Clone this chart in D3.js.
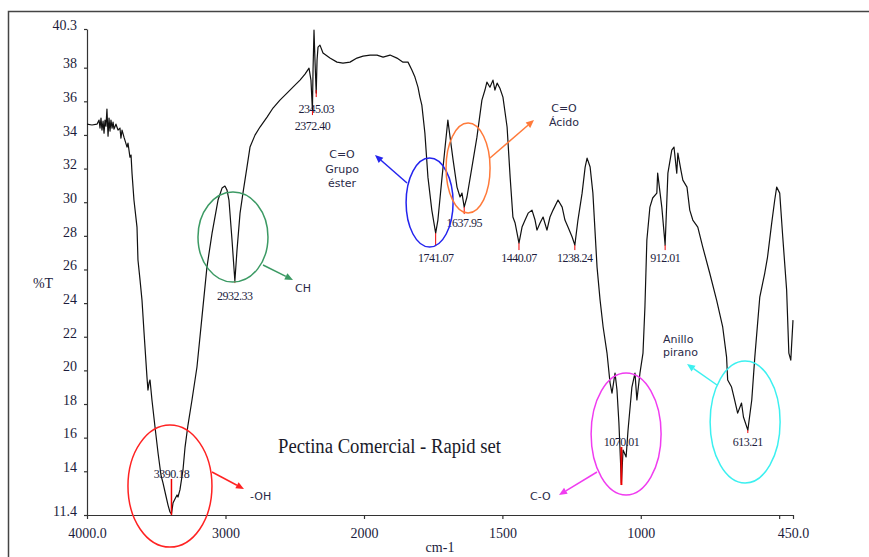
<!DOCTYPE html>
<html>
<head>
<meta charset="utf-8">
<script src="https://cdn.jsdelivr.net/npm/d3@7"></script>
<style>
  body { margin: 0; background: #fff; }
  svg { display: block; }
</style>
</head>
<body>
<script>
// spectrum (cm-1 / %T)
var wavenumber = [4000,3964,3928,3913,3906,3899,3892,3884,3877,3870,
  3863,3856,3848,3841,3834,3827,3819,3812,3805,3791,
  3776,3762,3755,3747,3733,3711,3704,3690,3682,3675,
  3661,3639,3632,3617,3603,3588,3567,3560,3552,3545,
  3531,3509,3487,3466,3451,3430,3415,3401,3390.18,3379,
  3365,3350,3343,3329,3307,3292,3271,3242,3206,3170,
  3134,3097,3054,3025,3004,2989,2975,2953,2932.33,2917,
  2895,2874,2845,2823,2787,2751,2700,2657,2607,2556,
  2513,2462,2426,2397,2383,2372.40,2368,2361,2354,2345.03,
  2339,2332,2318,2296,2246,2195,2152,2101,2051,2007,
  1978,1953,1931,1906,1881,1859,1841,1827,1816,1805,
  1798,1791,1780,1769,1755,1741.07,1733,1718,1707,1697,
  1689,1678,1664,1653,1646,1637.95,1628,1610,1592,1574,
  1563,1556,1545,1534,1527,1519,1509,1498,1483,1472,
  1462,1454,1447,1440.07,1429,1418,1407,1393,1382,1375,
  1364,1353,1339,1328,1317,1299,1284,1274,1263,1248,
  1238.24,1227,1212,1201,1194,1183,1173,1158,1147,1136,
  1122,1111,1104,1093,1086,1079,1070.01,1064,1053,1046,
  1032,1021,1014,1003,992,985,978,967,957,942,
  939,924,912.01,902,888,880,870,866,855,848,
  833,823,812,794,776,751,726,704,690,686,
  672,661,650,636,629,613.21,599,588,570,552,
  542,527,516,509,498,487,473,465,458,450];

var transmittance = [34.64,34.59,34.64,34.88,34.41,35.0,34.29,34.82,34.11,34.88,
  34.52,35.54,33.93,35.0,34.23,34.88,34.41,34.76,34.35,34.64,
  34.29,34.41,33.81,34.29,33.87,33.28,33.52,32.68,32.80,31.73,
  30.13,28.52,26.56,25.37,24.18,22.22,19.60,18.83,19.25,19.43,
  18.24,16.63,15.09,13.78,13.30,12.53,11.99,11.58,11.46,12.11,
  12.35,12.59,12.47,12.89,14.08,15.44,16.75,18.24,20.20,23.17,
  26.14,28.16,30.13,30.84,30.96,30.72,30.13,27.75,25.31,27.15,
  29.35,30.54,32.09,33.28,33.99,34.47,35.06,35.60,36.07,36.49,
  36.84,37.26,37.62,37.97,37.26,35.48,37.85,40.23,38.45,36.49,
  38.45,39.22,39.34,38.87,38.57,38.33,38.27,38.33,38.57,38.69,
  38.75,38.75,38.63,38.75,38.57,38.33,38.33,37.86,37.44,36.84,
  36.25,35.77,34.11,31.49,29.53,28.16,28.94,31.49,33.28,34.88,
  33.87,32.50,30.90,30.31,30.54,29.71,30.31,32.09,33.87,36.07,
  36.67,37.14,36.84,37.26,36.67,37.08,36.78,36.25,34.47,31.49,
  29.12,28.76,28.16,27.57,28.52,28.94,29.35,29.53,28.94,28.34,
  28.76,29.12,28.34,29.12,29.53,30.13,29.71,28.94,28.52,27.93,
  27.45,28.94,30.54,32.09,32.62,32.09,30.54,26.14,24.18,22.58,
  21.03,19.25,18.65,19.84,18.83,16.87,13.30,15.26,14.85,16.45,
  19.01,19.84,18.24,19.84,21.03,23.77,27.75,29.71,30.25,30.54,
  31.73,29.71,27.45,31.73,33.10,33.28,31.73,32.92,31.91,31.31,
  30.90,29.53,28.94,28.52,27.33,25.79,24.18,22.58,20.79,19.43,
  19.01,18.24,17.46,18.06,17.23,16.45,18.24,20.79,24.36,25.79,
  26.74,28.76,30.13,30.90,30.54,27.93,24.78,21.03,20.61,22.99];

// picked peaks
var peakWn = [3390.18, 2932.33, 2372.40, 2345.03, 1741.07, 1637.95, 1440.07, 1238.24, 1070.01, 912.01, 613.21];
var peakText = ["3390.18", "2932.33", "2372.40", "2345.03", "1741.07", "1637.95", "1440.07", "1238.24", "1070.01", "912.01", "613.21"];

// axis ticks
var xTicks = [4000, 3000, 2000, 1500, 1000, 500, 450];
var xTickText = ["4000.0", "3000", "2000", "1500", "1000", "", "450.0"];
var yTicks = [11.4, 14, 16, 18, 20, 22, 24, 26, 28, 30, 32, 34, 36, 38, 40.3];

// band assignments (circled groups): centre in cm-1 / %T
var groupWn = [3401, 2946, 1763, 1624, 1053, 623];
var groupT = [13.12, 27.93, 29.98, 32.03, 16.22, 16.93];
var groupText = [["-OH"], ["CH"], ["C=O", "Grupo", "éster"], ["C=O", "Ácido"], ["C-O"], ["Anillo", "pirano"]];

window.onload = draw();

function draw(){

    var width = 869,
        height = 557;

    var svg = d3.select("body")
        .append("svg")
        .attr("width", width)
        .attr("height", height);

    // wavenumber axis changes scale at 2000
    var x = d3.scaleLinear()
        .domain([4000, 2000, 450])
        .range([87, 364, 793]);

    var y = d3.scaleLinear()
        .domain([11.4, 40.3])
        .range([515, 29]);

    var ink = "#1c1c3c";

    //outer frame (top and left visible)
    svg.append("path")
        .attr("d", "M8.5,557V11.5H869")
        .attr("fill", "none")
        .attr("stroke", "#444")
        .attr("stroke-width", 1.5);

    //axes
    var xAxis = d3.axisBottom(x)
        .tickValues(xTicks)
        .tickFormat(function(d, i){ return xTickText[i]; })
        .tickSize(4)
        .tickSizeOuter(0)
        .tickPadding(9);

    var yAxis = d3.axisLeft(y)
        .tickValues(yTicks)
        .tickFormat(function(d){ return String(d); })
        .tickSize(3)
        .tickSizeOuter(0)
        .tickPadding(7);

    var gx = svg.append("g")
        .attr("transform", "translate(0,515)")
        .call(xAxis);

    var gy = svg.append("g")
        .attr("transform", "translate(87,0)")
        .call(yAxis);

    [gx, gy].forEach(function(g){
        g.selectAll("path, line").attr("stroke", "#333").attr("stroke-width", 1.2);
        g.selectAll("text")
            .attr("fill", ink)
            .style("font-family", "'Liberation Serif', 'Times New Roman', serif")
            .style("font-size", "14px");
    });
    gy.selectAll("text").attr("dy", "0.02em");

    //axis titles
    svg.append("text")
        .attr("x", 43).attr("y", 288)
        .attr("text-anchor", "middle")
        .attr("fill", ink)
        .style("font-family", "'Liberation Serif', serif")
        .style("font-size", "14px")
        .text("%T");

    svg.append("text")
        .attr("x", 440).attr("y", 552)
        .attr("text-anchor", "middle")
        .attr("fill", ink)
        .style("font-family", "'Liberation Serif', serif")
        .style("font-size", "14px")
        .text("cm-1");

    //spectrum
    var line = d3.line()
        .x(function(d){ return x(d[0]); })
        .y(function(d){ return y(d[1]); });

    var spectrum = d3.zip(wavenumber, transmittance);

    svg.append("path")
        .datum(spectrum)
        .attr("d", line)
        .attr("fill", "none")
        .attr("stroke", "#111")
        .attr("stroke-width", 1.2)
        .attr("stroke-linejoin", "round");

    //peak marks: label offset and red tick, in px from the minimum
    var peakLayout = [
        {dy: -36, t0: -35, t1: 1, w: 1.5},
        {dy: 19, t0: 0, t1: 2, w: 1},
        {dy: 20, t0: 0, t1: 5, w: 1},
        {dy: 20, t0: -3, t1: 4, w: 1},
        {dy: 29, t0: 0, t1: 13, w: 1},
        {dy: 20, t0: 0, t1: 7, w: 1},
        {dy: 19, t0: 0, t1: 7, w: 1},
        {dy: 17, t0: 0, t1: 5, w: 1},
        {dy: -37, t0: -36, t1: 2, w: 2},
        {dy: 17, t0: 0, t1: 5, w: 1},
        {dy: 16, t0: 0, t1: 3, w: 1}
    ];

    peakWn.forEach(function(wn, i){
        var k = wavenumber.indexOf(wn);
        var px = x(wn), py = y(transmittance[k]);
        var L = peakLayout[i];
        svg.append("line")
            .attr("x1", px).attr("x2", px)
            .attr("y1", py + L.t0).attr("y2", py + L.t1)
            .attr("stroke", "#e00")
            .attr("stroke-width", L.w);
        svg.append("text")
            .attr("x", px).attr("y", py + L.dy)
            .attr("text-anchor", "middle")
            .attr("fill", ink)
            .style("font-family", "'Liberation Serif', serif")
            .style("font-size", "12px")
            .style("letter-spacing", "-0.5px")
            .text(peakText[i]);
    });

    //circled groups, arrows, names
    var groupLayout = [
        {color: "#f22", rx: 42, ry: 61, a: [212, 472, 244, 489], tx: 250, ty: [500], anchor: "start"},
        {color: "#3c9a64", rx: 35, ry: 45, a: [263, 265, 293, 280], tx: 295, ty: [292], anchor: "start"},
        {color: "#2424ee", rx: 23.5, ry: 44.5, a: [407, 183, 375, 155], tx: 342, ty: [158, 173, 187], anchor: "middle"},
        {color: "#ff7a3a", rx: 22, ry: 45, a: [490, 158, 534, 120], tx: 564, ty: [112, 126], anchor: "middle"},
        {color: "#f03cf0", rx: 35, ry: 61, a: [597, 472, 559, 495], tx: 530, ty: [500], anchor: "start"},
        {color: "#3cf0f0", rx: 35, ry: 61, a: [717, 385, 687, 364], tx: 663, ty: [343, 356], anchor: "start"}
    ];

    groupWn.forEach(function(wn, i){
        var L = groupLayout[i];
        svg.append("ellipse")
            .attr("cx", x(wn)).attr("cy", y(groupT[i]))
            .attr("rx", L.rx).attr("ry", L.ry)
            .attr("fill", "none")
            .attr("stroke", L.color)
            .attr("stroke-width", 1.5);

        var x1 = L.a[0], y1 = L.a[1], x2 = L.a[2], y2 = L.a[3];
        var ang = Math.atan2(y2 - y1, x2 - x1);
        var hl = 8, hw = 3.5;
        var bx = x2 - hl * Math.cos(ang), by = y2 - hl * Math.sin(ang);
        svg.append("line")
            .attr("x1", x1).attr("y1", y1)
            .attr("x2", bx).attr("y2", by)
            .attr("stroke", L.color)
            .attr("stroke-width", 1.5);
        svg.append("polygon")
            .attr("points", [
                [x2, y2],
                [bx + hw * Math.sin(ang), by - hw * Math.cos(ang)],
                [bx - hw * Math.sin(ang), by + hw * Math.cos(ang)]
            ].join(" "))
            .attr("fill", L.color);

        groupText[i].forEach(function(t, j){
            svg.append("text")
                .attr("x", L.tx).attr("y", L.ty[j])
                .attr("text-anchor", L.anchor)
                .attr("fill", "#2a2a48")
                .style("font-family", "'DejaVu Sans', sans-serif")
                .style("font-size", "11px")
                .text(t);
        });
    });

    //title
    svg.append("text")
        .attr("x", 278).attr("y", 453)
        .attr("fill", "#1a1a2a")
        .attr("textLength", 223)
        .attr("lengthAdjust", "spacingAndGlyphs")
        .style("font-family", "'Liberation Serif', 'Times New Roman', serif")
        .style("font-size", "20px")
        .text("Pectina Comercial - Rapid set");

}; //end of draw()
</script>
</body>
</html>
